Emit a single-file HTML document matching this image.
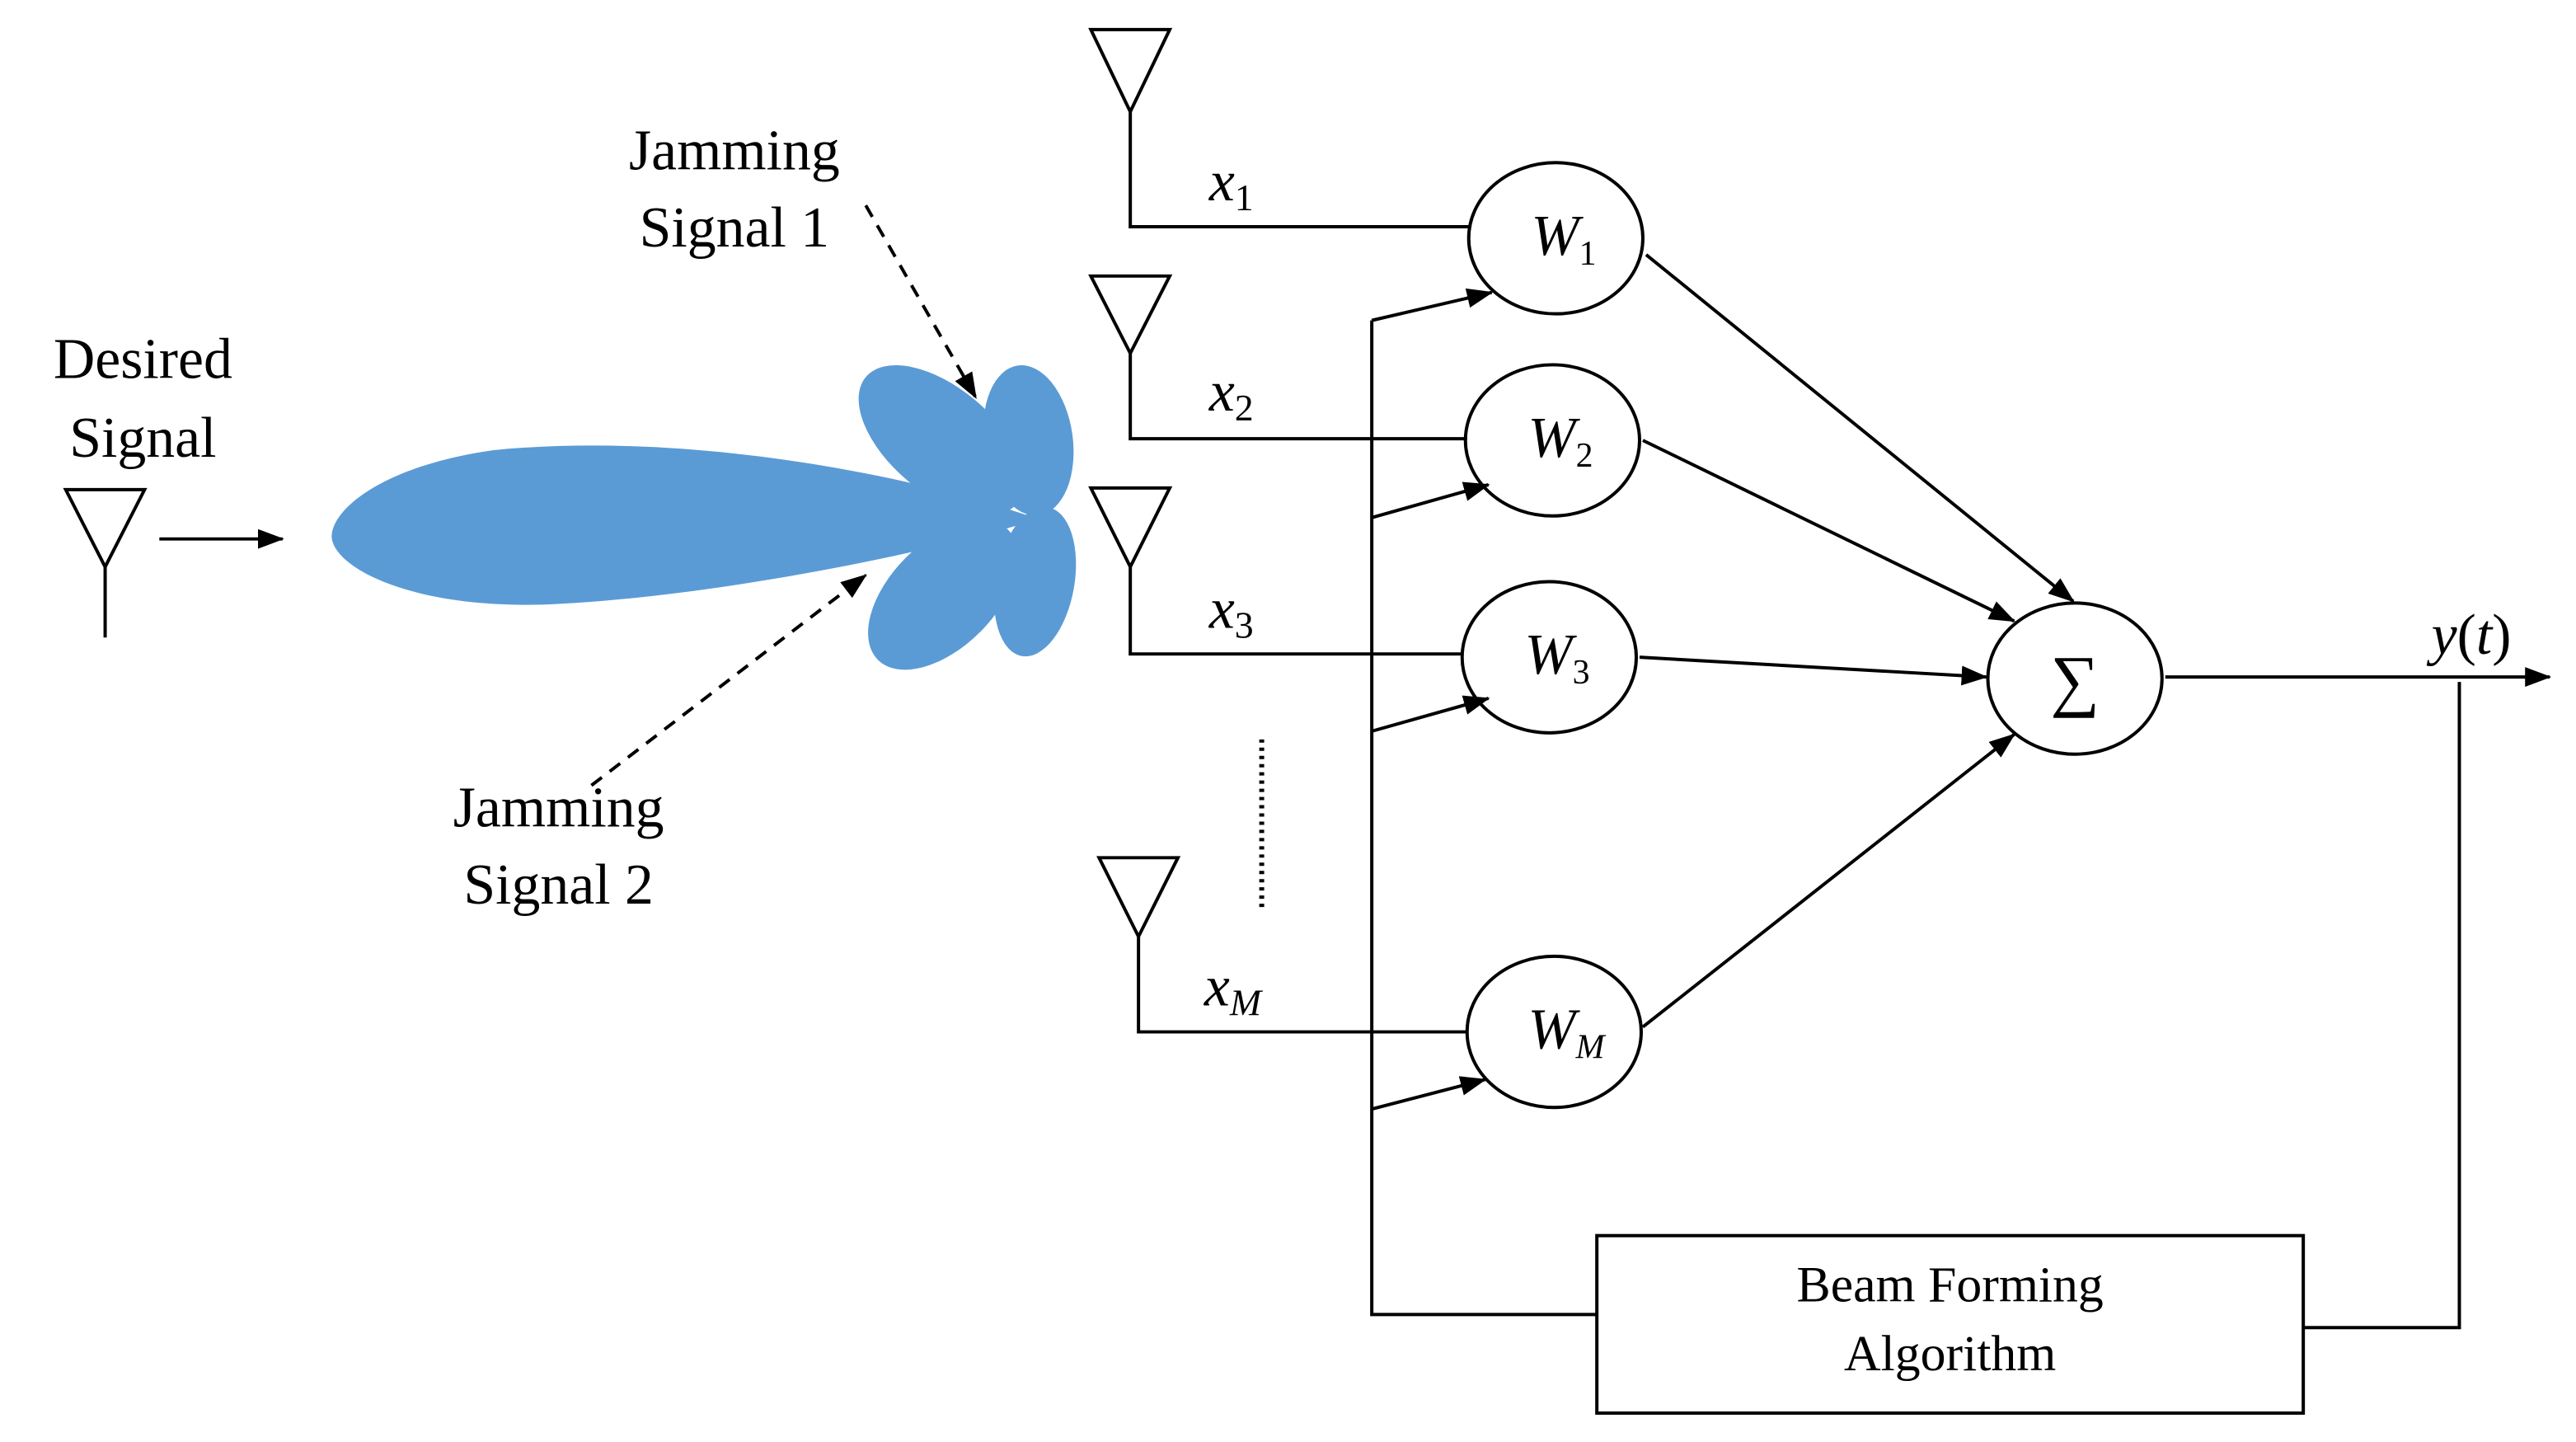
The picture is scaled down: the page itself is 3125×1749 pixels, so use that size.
<!DOCTYPE html>
<html><head><meta charset="utf-8"><style>
html,body{margin:0;padding:0;background:#fff;}
svg{display:block;}
text{font-family:"Liberation Serif",serif;fill:#000;}
</style></head><body>
<svg width="3125" height="1749" viewBox="0 0 1568 877.6" preserveAspectRatio="none" xmlns="http://www.w3.org/2000/svg">
<defs>
<marker id="b" markerWidth="16" markerHeight="12" refX="15" refY="6" orient="auto" markerUnits="userSpaceOnUse"><path d="M0,0 L16,6 L0,12 Z" fill="#000"/></marker>
</defs>
<g fill="#5b9bd5">
<path d="M632,316 C560,290 420,262 300,274 C230,284 200,312 202,328 C205,346 250,370 330,368 C430,364 560,338 632,316 Z"/>
<ellipse cx="573" cy="268" rx="60" ry="32" transform="rotate(40 573 268)"/>
<ellipse cx="626" cy="268" rx="46" ry="27" transform="rotate(82 626 268)"/>
<ellipse cx="574" cy="362" rx="56" ry="32" transform="rotate(-45 574 362)"/>
<ellipse cx="630" cy="354" rx="46" ry="24" transform="rotate(-80 630 354)"/>
</g>
<g stroke="#000" stroke-width="2" fill="none">
<path d="M40,298 L88,298 L64,345 Z M64,345 L64,388"/>
<line x1="97" y1="328" x2="172" y2="328" marker-end="url(#b)"/>
<line x1="527" y1="125" x2="594" y2="242" stroke-dasharray="8,6" marker-end="url(#b)"/>
<line x1="360" y1="478" x2="527" y2="350" stroke-dasharray="8,6" marker-end="url(#b)"/>
<path d="M664,18 L712,18 L688,68 Z M688,68 L688,138 L895,138"/>
<path d="M664,168 L712,168 L688,215 Z M688,215 L688,267 L893,267"/>
<path d="M664,297 L712,297 L688,345 Z M688,345 L688,398 L890,398"/>
<path d="M669,522 L717,522 L693,570 Z M693,570 L693,628 L893,628"/>
<line x1="768" y1="450" x2="768" y2="555" stroke-dasharray="2,3" stroke-width="3"/>
<ellipse cx="947" cy="145" rx="53" ry="46"/>
<ellipse cx="945" cy="268" rx="53" ry="46"/>
<ellipse cx="943" cy="400" rx="53" ry="46"/>
<ellipse cx="946" cy="628" rx="53" ry="46"/>
<ellipse cx="1263" cy="413" rx="53" ry="46"/>
<line x1="1002" y1="155" x2="1262" y2="366" marker-end="url(#b)"/>
<line x1="1000" y1="268" x2="1226" y2="378" marker-end="url(#b)"/>
<line x1="998" y1="400" x2="1209" y2="412" marker-end="url(#b)"/>
<line x1="1000" y1="625" x2="1226" y2="447" marker-end="url(#b)"/>
<line x1="1318" y1="412" x2="1552" y2="412" marker-end="url(#b)"/>
<path d="M1497,415 L1497,808 L1402,808"/>
<rect x="972" y="752" width="430" height="108"/>
<path d="M972,800 L835,800 L835,195"/>
<line x1="835" y1="195" x2="908" y2="178" marker-end="url(#b)"/>
<line x1="835" y1="315" x2="906" y2="295" marker-end="url(#b)"/>
<line x1="835" y1="445" x2="906" y2="425" marker-end="url(#b)"/>
<line x1="835" y1="675" x2="904" y2="657" marker-end="url(#b)"/>
</g>
<g font-size="35" text-anchor="middle">
<text x="87" y="230">Desired</text>
<text x="87" y="278">Signal</text>
<text x="447" y="103">Jamming</text>
<text x="447" y="150">Signal 1</text>
<text x="340" y="503">Jamming</text>
<text x="340" y="550">Signal 2</text>
<text x="1187" y="792" font-size="31">Beam Forming</text>
<text x="1187" y="834" font-size="31">Algorithm</text>
</g>
<g font-size="35" font-style="italic">
<text x="736" y="122">x<tspan font-size="23" dy="6" font-style="normal">1</tspan></text>
<text x="736" y="250">x<tspan font-size="23" dy="6" font-style="normal">2</tspan></text>
<text x="736" y="382">x<tspan font-size="23" dy="6" font-style="normal">3</tspan></text>
<text x="733" y="612">x<tspan font-size="23" dy="6">M</tspan></text>
<text x="932" y="155">W<tspan font-size="21" dy="6" font-style="normal">1</tspan></text>
<text x="930" y="278">W<tspan font-size="21" dy="6" font-style="normal">2</tspan></text>
<text x="928" y="410">W<tspan font-size="21" dy="6" font-style="normal">3</tspan></text>
<text x="930" y="638">W<tspan font-size="21" dy="6">M</tspan></text>
<text x="1480" y="398">y<tspan font-style="normal">(</tspan>t<tspan font-style="normal">)</tspan></text>
</g>
<text x="1263" y="428" font-size="42" text-anchor="middle">∑</text>
</svg>
</body></html>
